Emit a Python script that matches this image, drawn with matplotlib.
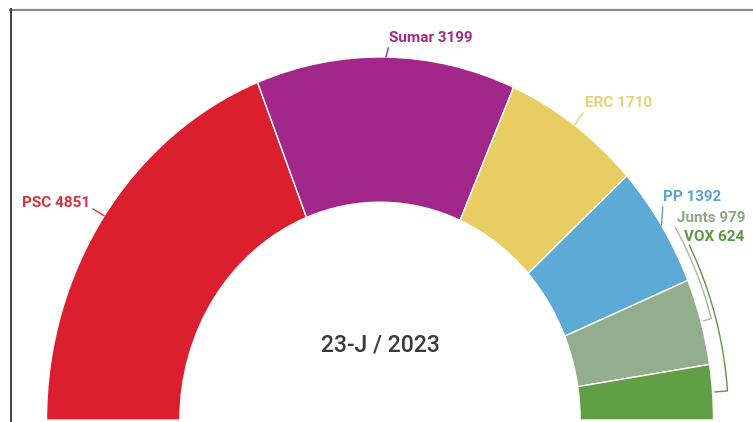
import numpy as np
import matplotlib
matplotlib.use('Agg')
import matplotlib.pyplot as plt
from matplotlib.lines import Line2D

# Data: seats/votes per party (23-J 2023)
parties = ['PSC', 'Sumar', 'ERC', 'PP', 'Junts', 'VOX']
values = [4851, 3199, 1710, 1392, 979, 624]
colors = ['#dc1f2e', '#a2278a', '#e8cd63', '#5daad7', '#93ae8c', '#609f45']
label_colors = ['#d63240', '#a02c8c', '#e2d27a', '#5aa4d4', '#8aa883', '#5a983f']
center_text = '23-J / 2023'

W, H = 753, 422
fig = plt.figure(figsize=(W / 100, H / 100), dpi=100)
fig.patch.set_facecolor('white')

# ellipse centre and radii in pixels (picture is slightly stretched vertically)
cx, cy = 380, 420
rx, ry = 333.5, 363
ax = fig.add_axes([(cx - rx) / W, (H - cy - ry) / H, 2 * rx / W, 2 * ry / H])

total = sum(values)
wedges, _ = ax.pie(values + [total], colors=colors + ['none'], startangle=180,
                   counterclock=False, radius=1.0,
                   wedgeprops=dict(width=0.4, edgecolor='white', linewidth=1.0))
wedges[-1].set_visible(False)
ax.set_aspect('auto')
ax.set_xlim(-1, 1)
ax.set_ylim(-1, 1)
ax.axis('off')

font = 'Roboto'

def mid_point(w, r=1.0):
    a = np.deg2rad((w.theta1 + w.theta2) / 2)
    return r * np.cos(a), r * np.sin(a)

# label positions (figure pixels from top-left), arrow start on text box
label_pos = {
    'PSC': (22, 203, (1.0, 0.2)),
    'Sumar': (389, 38, (0.0, 0.0)),
    'ERC': (585, 103, (0.0, 0.0)),
    'PP': (663, 197, (0.0, 0.0)),
}

for i, p in enumerate(parties):
    txt = f'{p} {values[i]}'
    if p in label_pos:
        x, y, rel = label_pos[p]
        ax.annotate(txt, xy=mid_point(wedges[i]), xycoords='data',
                    xytext=(x, H - y), textcoords='figure pixels',
                    ha='left', va='center', fontsize=11, fontweight='bold',
                    family=font, color=label_colors[i],
                    arrowprops=dict(arrowstyle='-', color=label_colors[i], lw=1.0,
                                    shrinkA=0, shrinkB=0, relpos=rel))

# Junts and VOX labels with brackets running along the outer arc
ax.annotate(f'Junts {values[4]}', xy=(677, H - 218), xycoords='figure pixels',
            ha='left', va='center', fontsize=11, fontweight='bold',
            family=font, color=label_colors[4])
ax.annotate(f'VOX {values[5]}', xy=(684, H - 237), xycoords='figure pixels',
            ha='left', va='center', fontsize=11, fontweight='bold',
            family=font, color=label_colors[5])

def bracket(a_start, a_end, r, color):
    t = np.deg2rad(np.linspace(a_start, a_end, 60))
    xs = list(r * np.cos(t)) + [1.005 * np.cos(t[-1])]
    ys = list(r * np.sin(t)) + [1.005 * np.sin(t[-1])]
    ax.plot(xs, ys, color=color, lw=1.0, solid_capstyle='butt', clip_on=False)

j_mid = (wedges[4].theta1 + wedges[4].theta2) / 2
bracket(31, j_mid, 1.032, '#a9b9a6')
bracket(27.5, 4.4, 1.045, label_colors[5])

fig.text(cx / W, 1 - 345 / H, center_text, ha='center', va='center',
         fontsize=16.5, fontweight='medium', family=font, color='#3a3a3a')

# frame lines of the original clipping
fig.add_artist(Line2D([10 / W, 1], [1 - 9.5 / H, 1 - 9.5 / H], color='#8a8a8a', lw=1.6))
fig.add_artist(Line2D([10.5 / W, 10.5 / W], [0, 1 - 9 / H], color='#333333', lw=1.3))

fig.savefig('out.png', dpi=100, facecolor='white')
